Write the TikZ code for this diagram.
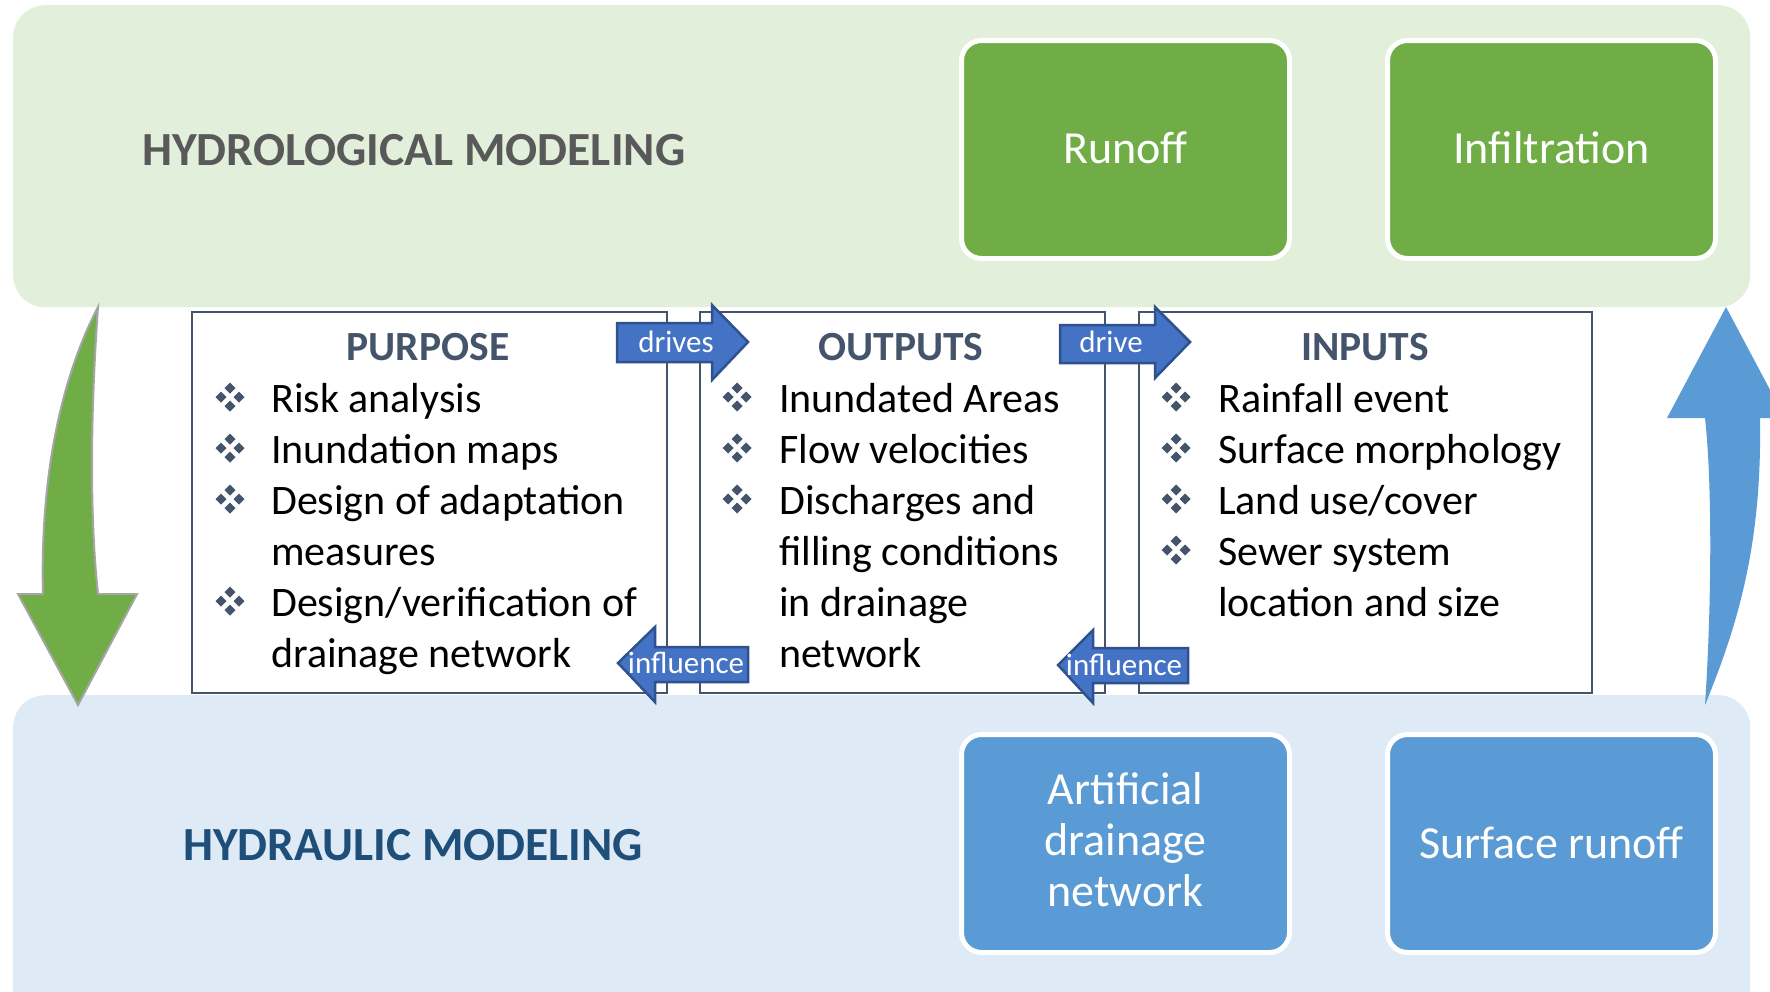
\documentclass[tikz,border=0pt]{standalone}
\usepackage{fontspec}
\setmainfont{Carlito}
\definecolor{greenband}{HTML}{E2EFDA}
\definecolor{blueband}{HTML}{DEEAF6}
\definecolor{boxgreen}{HTML}{70AD47}
\definecolor{boxblue}{HTML}{5B9BD5}
\definecolor{arrowblue}{HTML}{4472C4}
\definecolor{arrowedge}{HTML}{2F528F}
\definecolor{slate}{HTML}{44546A}
\definecolor{hydrogray}{HTML}{595959}
\definecolor{hydrablue}{HTML}{1F4E79}
\definecolor{arrowgray}{HTML}{A5A5A5}
\begin{document}
\begin{tikzpicture}[x=1pt,y=-1pt,
  band/.style={rounded corners=32pt, inner sep=0pt, anchor=north west, draw=none},
  modbox/.style={draw=white, line width=5pt, rounded corners=20pt, minimum width=328pt, minimum height=218pt, inner sep=0pt, text=white, font=\fontsize{46}{51}\selectfont, align=center},
  modtext/.style={inner sep=0pt, text=white, font=\fontsize{46}{51}\selectfont, align=center},
  listbox/.style={draw=slate, line width=1.5pt, fill=white, anchor=north west, inner sep=0pt, minimum height=381pt},
  listhead/.style={font=\fontsize{41.5}{51}\selectfont\bfseries, text=slate, anchor=base, inner sep=0pt},
  listitem/.style={font=\fontsize{42}{51}\selectfont, anchor=base west, inner sep=0pt},
  tag/.style={text=white, font=\fontsize{31}{31}\selectfont, inner sep=0pt},
  flat/.style={fill=arrowblue, draw=arrowedge, line width=2.5pt, line join=miter},
  title/.style={font=\fontsize{47.5}{51}\selectfont\bfseries, anchor=base west, inner sep=0pt},
  quad/.pic={\foreach \dx/\dy in {0/-9,0/9,-9/0,9/0}{\fill[slate] (\dx,\dy) ++(5.5,0) -- ++(-5.5,5.5) -- ++(-5.5,-5.5) -- ++(5.5,-5.5) -- cycle;}}
]
\useasboundingbox (0,0) rectangle (1770,991);
\clip (0,0) rectangle (1770,991);
\fill[white] (0,0) rectangle (1770,991);

% bands
\node[band, fill=greenband, minimum width=1737pt, minimum height=302pt] (hydroband) at (13,5) {};
\node[band, fill=blueband, minimum width=1737pt, minimum height=340pt] (hydraband) at (13,695) {};

\node[title, text=hydrogray] (hydrotitle) at (142,165) {HYDROLOGICAL MODELING};
\node[title, text=hydrablue] (hydratitle) at (183,860) {HYDRAULIC MODELING};

% model boxes
\node[modbox, fill=boxgreen] (runoff) at (1125.5,149.5) {\raisebox{3pt}{Runoff}};
\node[modbox, fill=boxgreen] (infil) at (1551.5,149.5) {\raisebox{3pt}{Infiltration}};
\node[modbox, fill=boxblue] (artif) at (1125.5,843.5) {};
\node[modtext] (artiftext) at (1125.5,840) {Artificial\\drainage\\network};
\node[modbox, fill=boxblue] (surf) at (1551.5,843.5) {\raisebox{2pt}{Surface runoff}};

% big side arrows
\filldraw[fill=boxgreen, draw=arrowgray, line width=2pt, line join=miter]
  (98,307) .. controls (90,420) and (90,520) .. (98,594) -- (137,594) -- (78,705) -- (18,594) -- (43,594)
  .. controls (40,480) and (60,380) .. (98,307) -- cycle;
\fill[boxblue]
  (1705,705) .. controls (1712,600) and (1712,480) .. (1705,418) -- (1667,418) -- (1726,307) -- (1785,418) -- (1760,418)
  .. controls (1762,540) and (1740,620) .. (1705,705) -- cycle;

% list boxes
\node[listbox, minimum width=475pt] (purposebox) at (191,311) {};
\node[listbox, minimum width=405pt] (outputsbox) at (699,311) {};
\node[listbox, minimum width=453pt] (inputsbox) at (1138,311) {};

\node[listhead] (purposehead) at (428,360) {PURPOSE};
\node[listhead] (outputshead) at (901,360) {OUTPUTS};
\node[listhead] (inputshead) at (1365,360) {INPUTS};

% purpose items
\foreach \yy in {397,448,499,601} { \pic at (230,\yy) {quad}; }
\node[listitem] (p1) at (271,412) {Risk analysis};
\node[listitem] (p2) at (271,463) {Inundation maps};
\node[listitem] (p3a) at (271,514) {Design of adaptation};
\node[listitem] (p3b) at (271,565) {measures};
\node[listitem] (p4a) at (271,616) {Design/verification of};
\node[listitem] (p4b) at (271,667) {drainage network};

% outputs items
\foreach \yy in {397,448,499} { \pic at (737,\yy) {quad}; }
\node[listitem] (o1) at (779,412) {Inundated Areas};
\node[listitem] (o2) at (779,463) {Flow velocities};
\node[listitem] (o3a) at (779,514) {Discharges and};
\node[listitem] (o3b) at (779,565) {filling conditions};
\node[listitem] (o3c) at (779,616) {in drainage};
\node[listitem] (o3d) at (779,667) {network};

% inputs items
\foreach \yy in {397,448,499,550} { \pic at (1176,\yy) {quad}; }
\node[listitem] (i1) at (1218,412) {Rainfall event};
\node[listitem] (i2) at (1218,463) {Surface morphology};
\node[listitem] (i3) at (1218,514) {Land use/cover};
\node[listitem] (i4a) at (1218,565) {Sewer system};
\node[listitem] (i4b) at (1218,616) {location and size};

% flat arrows
\filldraw[flat] (617,323) -- (712,323) -- (712,305) -- (748,342) -- (712,380) -- (712,362) -- (617,362) -- cycle;
\node[tag] (drives) at (676,342) {drives};
\filldraw[flat] (1060,325) -- (1155,325) -- (1155,307) -- (1190,342) -- (1155,378) -- (1155,363) -- (1060,363) -- cycle;
\node[tag] (drive) at (1111,342) {drive};
\filldraw[flat] (618,663) -- (655,627) -- (655,647) -- (748,647) -- (748,682) -- (655,682) -- (655,702) -- cycle;
\node[tag] (infl1) at (686,663) {influence};
\filldraw[flat] (1058,665) -- (1093,630) -- (1093,648) -- (1188,648) -- (1188,683) -- (1093,683) -- (1093,703) -- cycle;
\node[tag] (infl2) at (1124,665) {influence};
\end{tikzpicture}
\end{document}
